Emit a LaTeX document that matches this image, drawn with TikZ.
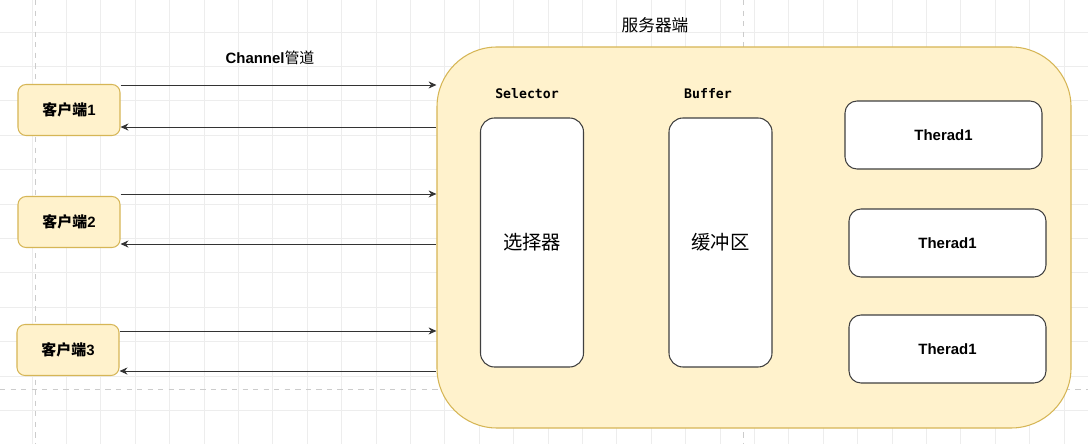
\documentclass[tikz,border=0pt]{standalone}
\usepackage{fontspec}
\setmainfont{Liberation Sans}
\newfontfamily\cjk{Noto Sans CJK SC}
\newfontfamily\monofam{DejaVu Sans Mono}
\usetikzlibrary{positioning,arrows.meta}
\definecolor{yfill}{HTML}{FFF2CC}
\definecolor{yline}{HTML}{D6B656}
\definecolor{gridc}{HTML}{EDEDED}
\definecolor{pagec}{HTML}{CCCCCC}

\begin{document}
\begin{tikzpicture}[
    x = 0.2mm, y = -0.2mm,
    > = {Stealth[length=4.5pt, width=4pt]},
    semithick,
    client/.style = {rectangle, rounded corners=1.6mm, draw=yline, fill=yfill, minimum width=20.4mm, minimum height=10.2mm, font=\fontsize{8.5}{10}\selectfont\bfseries},
    block/.style = {rectangle, rounded corners=2.8mm, draw=black!75, fill=white, minimum width=20.6mm, minimum height=49.8mm, font=\cjk\fontsize{11}{13}\selectfont},
    worker/.style = {rectangle, rounded corners=2.4mm, draw=black!75, fill=white, minimum width=39.4mm, minimum height=13.6mm, font=\fontsize{8.5}{10}\selectfont\bfseries},
    caption/.style = {font=\monofam\fontsize{7.5}{9}\selectfont\bfseries},
    link/.style = {draw=black!80, line width=0.5pt}
]
    \fill[white] (0,0) rectangle (1088,444);
    \useasboundingbox (0,0) rectangle (1088,444);

    % grid and page borders
    \foreach \k in {0,...,30}
        \draw[gridc, line width=0.4pt] ({32+34.4*\k},0) -- ++(0,444);
    \foreach \k in {0,...,11}
        \draw[gridc, line width=0.4pt] (0,{32+34.4*\k}) -- ++(1088,0);
    \draw[pagec, dashed, line width=0.4pt] (35,0) -- (35,444);
    \draw[pagec, dashed, line width=0.4pt] (743,0) -- (743,444);
    \draw[pagec, dashed, line width=0.4pt] (0,389) -- (1088,389);

    % server side
    \node[draw=yline, fill=yfill, rounded corners=12mm, minimum width=126.8mm, minimum height=76.2mm] (srv) at (754,237.5) {};
    \node[font=\cjk\fontsize{9.5}{11}\selectfont] (srvlabel) at (655,25) {服务器端};

    \node[block] (sel) at (532,242.5) {选择器};
    \node[block] (buf) at (720.5,242.5) {缓冲区};
    \node[caption] (sellabel) at (527,94) {Selector};
    \node[caption] (buflabel) at (708,94) {Buffer};

    \node[worker] (t1) at (943.5,135) {Therad1};
    \node[worker] (t2) at (947.5,243) {Therad1};
    \node[worker] (t3) at (947.5,349) {Therad1};

    % clients
    \node[client] (c1) at (69,110) {{\cjk 客户端}1};
    \node[client] (c2) at (69,222) {{\cjk 客户端}2};
    \node[client] (c3) at (68,350) {{\cjk 客户端}3};
    \node[font=\fontsize{8.5}{10}\selectfont\bfseries] (chan) at (270,58) {Channel{\cjk\mdseries 管道}};

    \foreach \c/\a/\b in {c1/1/9, c2/-2/4, c3/7/5} {
        \path (\c.north east) ++(0,\a) coordinate (\c-out);
        \path (\c.south east) ++(0,-\b) coordinate (\c-back);
        \draw[link, ->] (\c-out) -- (\c-out -| srv.west);
        \draw[link, <-] (\c-back) -- (\c-back -| srv.west);
    }
\end{tikzpicture}
\end{document}
